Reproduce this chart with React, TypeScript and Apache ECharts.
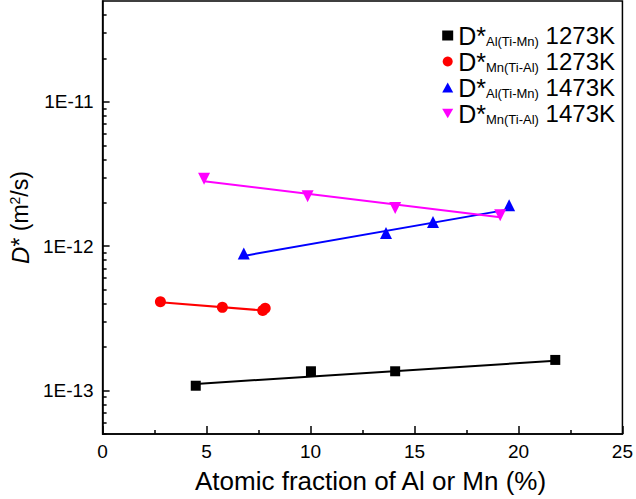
import React, { useEffect, useRef } from 'react';
import * as echarts from 'echarts';

const FONT = '"Liberation Sans", Arial, Helvetica, sans-serif';

// Data (atomic fraction %, D* m^2/s)
const alX1273 = [4.48, 10.02, 14.07, 21.77];
const alY1273 = [1.08e-13, 1.36e-13, 1.36e-13, 1.63e-13];
const alFitX1273 = [4.48, 21.77];
const alFitY1273 = [1.11e-13, 1.61e-13];

const mnX1273 = [2.78, 5.76, 7.7, 7.82];
const mnY1273 = [4.13e-13, 3.77e-13, 3.58e-13, 3.72e-13];
const mnFitX1273 = [2.78, 7.82];
const mnFitY1273 = [4.09e-13, 3.58e-13];

const alX1473 = [6.79, 13.63, 15.89, 19.55];
const alY1473 = [8.91e-13, 1.235e-12, 1.47e-12, 1.92e-12];
const alFitX1473 = [6.79, 19.55];
const alFitY1473 = [8.57e-13, 1.8e-12];

const mnX1473 = [4.88, 9.86, 14.07, 19.12];
const mnY1473 = [2.93e-12, 2.22e-12, 1.84e-12, 1.64e-12];
const mnFitX1473 = [4.88, 19.12];
const mnFitY1473 = [2.82e-12, 1.59e-12];

const majorYTicks = [1e-13, 1e-12, 1e-11];
const minorYTicks = [
  5e-14, 6e-14, 7e-14, 8e-14, 9e-14,
  2e-13, 3e-13, 4e-13, 5e-13, 6e-13, 7e-13, 8e-13, 9e-13,
  2e-12, 3e-12, 4e-12, 5e-12, 6e-12, 7e-12, 8e-12, 9e-12,
  2e-11, 3e-11, 4e-11,
];

const legendSub: Record<string, string> = {
  alLow: 'Al(Ti-Mn)',
  mnLow: 'Mn(Ti-Al)',
  alHigh: 'Al(Ti-Mn)',
  mnHigh: 'Mn(Ti-Al)',
};
const legendTemp: Record<string, string> = {
  alLow: '1273K',
  mnLow: '1273K',
  alHigh: '1473K',
  mnHigh: '1473K',
};

const DOWN_TRI = 'path://M0,0L10,0L5,8.66Z';

const zip = (xs: number[], ys: number[]) => xs.map((x, i) => [x, ys[i]]);

function fitSeries(xs: number[], ys: number[], color: string) {
  return {
    type: 'line',
    data: zip(xs, ys),
    showSymbol: false,
    symbol: 'none',
    lineStyle: { color, width: 2 },
    silent: true,
    z: 2,
  };
}

function pointSeries(name: string, xs: number[], ys: number[], color: string, symbol: string, size: number) {
  return {
    name,
    type: 'scatter',
    data: zip(xs, ys),
    symbol,
    symbolSize: size,
    itemStyle: { color, opacity: 1 },
    z: 3,
  };
}

export default function App() {
  const ref = useRef<HTMLDivElement>(null);
  useEffect(() => {
    const chart = echarts.init(ref.current!, null, { renderer: 'svg' });
    const option: any = {
      animation: false,
      backgroundColor: '#fff',
      textStyle: { fontFamily: FONT },
      grid: {
        left: 101,
        right: 11,
        top: 1,
        bottom: 62,
        show: true,
        borderColor: '#000',
        borderWidth: 1.5,
        backgroundColor: 'transparent',
      },
      legend: {
        orient: 'vertical',
        right: 16,
        top: 18,
        itemWidth: 11,
        itemHeight: 10,
        itemGap: 1,
        selectedMode: false,
        data: [
          { name: 'alLow', icon: 'rect', itemStyle: { opacity: 1 } },
          { name: 'mnLow', icon: 'circle', itemStyle: { opacity: 1 } },
          { name: 'alHigh', icon: 'triangle', itemStyle: { opacity: 1 } },
          { name: 'mnHigh', icon: DOWN_TRI, itemStyle: { opacity: 1 } },
        ],
        formatter: (n: string) => `{d|D*}{s|${legendSub[n]}}{t| ${legendTemp[n]}}`,
        textStyle: {
          fontFamily: FONT,
          color: '#000',
          lineHeight: 24,
          rich: {
            d: { fontSize: 25, fontFamily: FONT, color: '#000', lineHeight: 24 },
            s: { fontSize: 13, fontFamily: FONT, color: '#000', verticalAlign: 'bottom', lineHeight: 13 },
            t: { fontSize: 24, fontFamily: FONT, color: '#000', lineHeight: 24 },
          },
        },
      },
      xAxis: {
        type: 'value',
        min: 0,
        max: 25,
        interval: 5,
        name: 'Atomic fraction of Al or Mn (%)',
        nameLocation: 'middle',
        nameGap: 34,
        nameTextStyle: { fontFamily: FONT, fontSize: 26, color: '#000', padding: [0, 0, 0, 16] },
        axisLine: { show: true, lineStyle: { color: '#000', width: 1.5 } },
        axisTick: { show: true, inside: true, length: 8, lineStyle: { color: '#000', width: 1.5 } },
        minorTick: { show: true, splitNumber: 2, length: 4, lineStyle: { color: '#000', width: 1.5 } },
        splitLine: { show: false },
        minorSplitLine: { show: false },
        axisLabel: { fontFamily: FONT, fontSize: 19, color: '#000', margin: 8 },
      },
      yAxis: [
        {
          type: 'log',
          logBase: 10,
          min: 5e-14,
          max: 5e-11,
          position: 'left',
          name: '{i|D}{n|* (m}{s|2}{n|/s)}',
          nameLocation: 'middle',
          nameGap: 58,
          nameTextStyle: {
            fontFamily: FONT,
            color: '#000',
            rich: {
              i: { fontSize: 24, fontStyle: 'italic', fontFamily: FONT, color: '#000' },
              n: { fontSize: 23, fontFamily: FONT, color: '#000' },
              s: { fontSize: 14, fontFamily: FONT, color: '#000', verticalAlign: 'top' },
            },
          },
          axisLine: { show: true, lineStyle: { color: '#000', width: 1.5 } },
          axisTick: { show: true, inside: true, length: 7, customValues: majorYTicks, lineStyle: { color: '#000', width: 1.5 } },
          splitLine: { show: false },
          axisLabel: {
            fontFamily: FONT,
            fontSize: 19,
            color: '#000',
            margin: 9,
            customValues: majorYTicks,
            formatter: (v: number) => '1E' + Math.round(Math.log10(v)),
          },
        },
        {
          type: 'log',
          logBase: 10,
          min: 5e-14,
          max: 5e-11,
          position: 'left',
          axisLine: { show: false },
          axisTick: { show: true, inside: true, length: 4, customValues: minorYTicks, lineStyle: { color: '#000', width: 1.5 } },
          axisLabel: { show: false },
          splitLine: { show: false },
        },
      ],
      series: [
        fitSeries(alFitX1273, alFitY1273, '#000000'),
        fitSeries(mnFitX1273, mnFitY1273, '#ff0000'),
        fitSeries(alFitX1473, alFitY1473, '#0000ff'),
        fitSeries(mnFitX1473, mnFitY1473, '#ff00ff'),
        pointSeries('alLow', alX1273, alY1273, '#000000', 'rect', 10),
        pointSeries('mnLow', mnX1273, mnY1273, '#ff0000', 'circle', 11),
        pointSeries('alHigh', alX1473, alY1473, '#0000ff', 'triangle', 12),
        pointSeries('mnHigh', mnX1473, mnY1473, '#ff00ff', DOWN_TRI, 12),
      ],
    };
    chart.setOption(option);
    return () => chart.dispose();
  }, []);
  return (
    <div
      ref={ref}
      style={{ position: 'absolute', left: 0, top: 0, width: 636, height: 499, background: '#fff' }}
    />
  );
}
